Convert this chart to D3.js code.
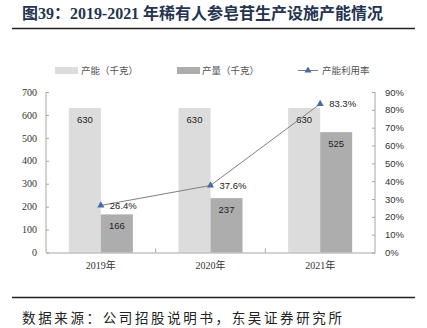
<!DOCTYPE html>
<html><head><meta charset="utf-8">
<script src="https://cdn.jsdelivr.net/npm/d3@7"></script>
<style>html,body{margin:0;padding:0;background:#fff;}svg{display:block;}</style>
</head><body>
<svg id="c" width="427" height="328"></svg>
<script>
const categories = ["2019年", "2020年", "2021年"];
const capacity = [630, 630, 630];
const output = [166, 237, 525];
const utilization = [26.4, 37.6, 83.3];
const leftTicks = [0, 100, 200, 300, 400, 500, 600, 700];
const rightTicks = [0, 10, 20, 30, 40, 50, 60, 70, 80, 90];
const seriesNames = ["产能（千克）", "产量（千克）", "产能利用率"];
const titleText = "图39：2019-2021 年稀有人参皂苷生产设施产能情况";
const sourceText = "数据来源：公司招股说明书，东吴证券研究所";

const svg = d3.select("#c");
const M = {left: 46, right: 375, top: 92, bottom: 252.5};
const x = d3.scaleBand().domain(categories).range([M.left, M.right]);
const yL = d3.scaleLinear().domain([0, 700]).range([M.bottom, M.top]);
const yR = d3.scaleLinear().domain([0, 90]).range([M.bottom, M.top]);
const barW = 32;
const cLight = "#dcdcdc", cDark = "#adadad", axisC = "#a6a6a6";
const sans = "'Liberation Sans', Arial, sans-serif";
const serif = "'Liberation Serif', 'Times New Roman', serif";
const cjk = "'Noto Sans CJK SC', sans-serif";

// title
svg.append("text").attr("x", 22).attr("y", 19)
  .attr("font-family", "'Liberation Serif', 'Noto Sans CJK SC', serif")
  .attr("font-weight", "bold").attr("font-size", 16).attr("fill", "#25344f")
  .attr("textLength", 361).attr("lengthAdjust", "spacing")
  .text(titleText);
svg.append("line").attr("x1", 12).attr("x2", 415).attr("y1", 28.5).attr("y2", 28.5)
  .attr("stroke", "#222").attr("stroke-width", 1.6);

// bars
const g = svg.append("g");
g.selectAll(".cap").data(categories).join("rect")
  .attr("x", d => x(d) + x.bandwidth()/2 - barW)
  .attr("y", (d,i) => yL(capacity[i]))
  .attr("width", barW).attr("height", (d,i) => yL(0) - yL(capacity[i]))
  .attr("fill", cLight);
g.selectAll(".out").data(categories).join("rect")
  .attr("x", d => x(d) + x.bandwidth()/2)
  .attr("y", (d,i) => yL(output[i]))
  .attr("width", barW).attr("height", (d,i) => yL(0) - yL(output[i]))
  .attr("fill", cDark);

// axes
const axL = d3.axisLeft(yL).tickValues(leftTicks).tickSize(-3).tickPadding(9);
const gl = svg.append("g").attr("transform", `translate(${M.left},0)`).call(axL);
gl.selectAll("text").attr("font-family", serif).attr("font-size", 10).attr("fill", "#333");
const axR = d3.axisRight(yR).tickValues(rightTicks).tickSize(-3).tickPadding(10)
  .tickFormat(d => d + "%");
const gr = svg.append("g").attr("transform", `translate(${M.right},0)`).call(axR);
gr.selectAll("text").attr("font-family", sans).attr("font-size", 9.5).attr("fill", "#333");
[gl, gr].forEach(a => { a.select(".domain").attr("stroke", axisC).attr("d", `M0,${M.top}V${M.bottom}`);
  a.selectAll(".tick line").attr("stroke", axisC); });

// baseline + category ticks
const ax = d3.axisBottom(x).tickSize(0).tickPadding(9);
const gb = svg.append("g").attr("transform", `translate(0,${M.bottom})`).call(ax);
gb.select(".domain").attr("stroke", axisC);
gb.selectAll("text").attr("font-family", "'Liberation Serif', 'Noto Sans CJK SC', serif")
  .attr("font-size", 10).attr("fill", "#333");
gb.selectAll(".sep").data(categories.slice(1)).join("line")
  .attr("x1", d => x(d)).attr("x2", d => x(d)).attr("y1", 0).attr("y2", -4)
  .attr("stroke", axisC);

// value labels
g.selectAll(".capL").data(categories).join("text")
  .attr("x", d => x(d) + x.bandwidth()/2 - barW/2)
  .attr("y", (d,i) => yL(capacity[i]) + 15)
  .attr("text-anchor", "middle").attr("font-family", sans).attr("font-size", 9.5).attr("fill", "#222")
  .text((d,i) => capacity[i]);
g.selectAll(".outL").data(categories).join("text")
  .attr("x", d => x(d) + x.bandwidth()/2 + barW/2)
  .attr("y", (d,i) => yL(output[i]) + 15)
  .attr("text-anchor", "middle").attr("font-family", sans).attr("font-size", 9.5).attr("fill", "#222")
  .text((d,i) => output[i]);

// line
const pts = categories.map((c,i) => [x(c) + x.bandwidth()/2, yR(utilization[i])]);
svg.append("path").attr("d", d3.line()(pts)).attr("fill", "none")
  .attr("stroke", "#808080").attr("stroke-width", 1);
const tri = d3.symbol().type(d3.symbolTriangle).size(22);
svg.selectAll(".mk").data(pts).join("path")
  .attr("transform", d => `translate(${d[0]},${d[1]})`).attr("d", tri).attr("fill", "#4a6aa5");
svg.selectAll(".pl").data(pts).join("text")
  .attr("x", d => d[0] + 9).attr("y", d => d[1] + 3.5)
  .attr("font-family", sans).attr("font-size", 9.5).attr("fill", "#222")
  .text((d,i) => utilization[i].toFixed(1) + "%");

// legend
const ly = 70.5;
const leg = svg.append("g");
leg.append("rect").attr("x", 55).attr("y", ly - 3.5).attr("width", 23).attr("height", 7).attr("fill", cLight);
leg.append("text").attr("x", 81).attr("y", ly + 3.5).text(seriesNames[0]);
leg.append("rect").attr("x", 177).attr("y", ly - 3.5).attr("width", 23).attr("height", 7).attr("fill", cDark);
leg.append("text").attr("x", 202).attr("y", ly + 3.5).text(seriesNames[1]);
leg.append("line").attr("x1", 298).attr("x2", 318).attr("y1", ly).attr("y2", ly).attr("stroke", "#808080");
leg.append("path").attr("transform", `translate(308,${ly})`).attr("d", tri).attr("fill", "#4a6aa5");
leg.append("text").attr("x", 322).attr("y", ly + 3.5).text(seriesNames[2]);
leg.selectAll("text").attr("font-family", cjk).attr("font-size", 9.5).attr("fill", "#555");

// source
svg.append("line").attr("x1", 12).attr("x2", 415).attr("y1", 297.5).attr("y2", 297.5)
  .attr("stroke", "#222").attr("stroke-width", 1.6);
svg.append("text").attr("x", 22).attr("y", 323).attr("font-family", cjk)
  .attr("font-size", 13.5).attr("fill", "#222")
  .attr("textLength", 320).attr("lengthAdjust", "spacing").text(sourceText);
</script>
</body></html>
